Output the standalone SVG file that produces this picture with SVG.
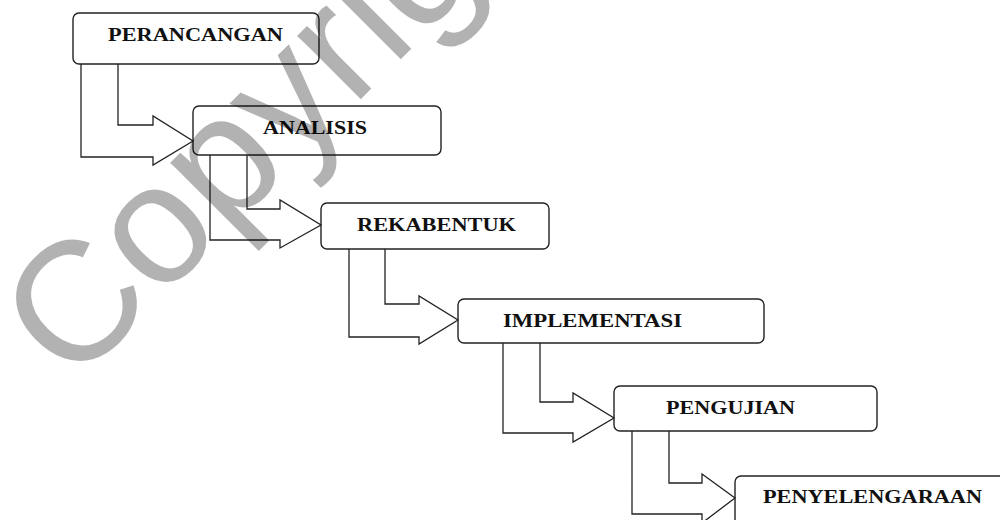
<svg xmlns="http://www.w3.org/2000/svg" width="1000" height="520" viewBox="0 0 1000 520">
<style>
.box{fill:none;stroke:#222;stroke-width:1.4}
.lbl{font-family:"Liberation Serif","Times New Roman",serif;font-weight:bold;font-size:19px;fill:#111}
.arr{fill:none;stroke:#222;stroke-width:1.3;stroke-linejoin:miter}
.wm{font-family:"Liberation Sans",Arial,sans-serif;font-size:170px;fill:#000;fill-opacity:0.3}
</style>
<rect width="1000" height="520" fill="#fff"/>
<g id="connectors">
<polyline class="arr" points="118,64 118,125 153,125 153,116 193,141 153,165 153,157 81,157 81,64"/>
<polyline class="arr" points="247,155 247,209 280,209 280,200 321,225 280,248 280,240 210,240 210,155"/>
<polyline class="arr" points="385,249 385,304 419,304 419,296 458,320 419,344 419,337 349,337 349,249"/>
<polyline class="arr" points="540,343 540,402 573,402 573,393 614,418 573,442 573,433 503,433 503,343"/>
<polyline class="arr" points="669,431 669,483 702,483 702,474 735,498 702,523 702,514 632,514 632,431"/>
</g>
<g id="n1"><rect class="box" x="73" y="13" width="246" height="51" rx="6"/><text class="lbl" x="108" y="41" textLength="175" lengthAdjust="spacingAndGlyphs">PERANCANGAN</text></g>
<g id="n2"><rect class="box" x="193" y="106" width="248" height="49" rx="6"/><text class="lbl" x="263" y="134" textLength="104" lengthAdjust="spacingAndGlyphs">ANALISIS</text></g>
<g id="n3"><rect class="box" x="321" y="203" width="228" height="46" rx="6"/><text class="lbl" x="357" y="231" textLength="159" lengthAdjust="spacingAndGlyphs">REKABENTUK</text></g>
<g id="n4"><rect class="box" x="458" y="299" width="306" height="44" rx="6"/><text class="lbl" x="503" y="327" textLength="179" lengthAdjust="spacingAndGlyphs">IMPLEMENTASI</text></g>
<g id="n5"><rect class="box" x="614" y="386" width="263" height="45" rx="6"/><text class="lbl" x="666" y="414" textLength="129" lengthAdjust="spacingAndGlyphs">PENGUJIAN</text></g>
<g id="n6"><rect class="box" x="735" y="476" width="290" height="60" rx="6"/><text class="lbl" x="763" y="503" textLength="219" lengthAdjust="spacingAndGlyphs">PENYELENGARAAN</text></g>
<text class="wm" transform="translate(72,388) rotate(-45)">Copyright</text>
</svg>
